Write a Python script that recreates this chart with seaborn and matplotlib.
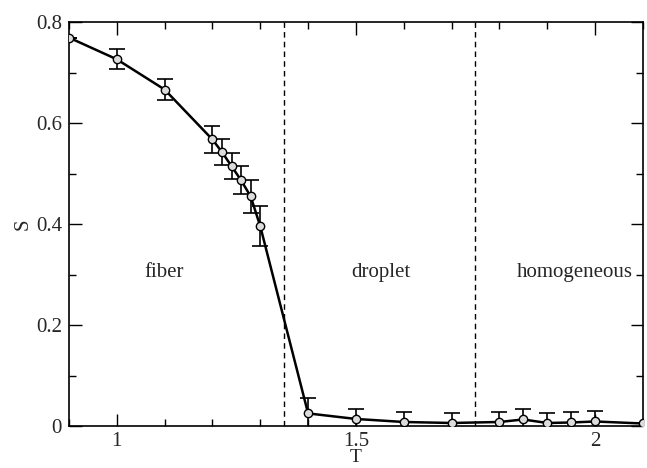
import matplotlib
matplotlib.use("Agg")
import matplotlib.pyplot as plt
import seaborn as sns
import pandas as pd
from matplotlib.ticker import MultipleLocator

T = [0.9, 1.0, 1.1, 1.2, 1.22, 1.24, 1.26, 1.28, 1.30, 1.4, 1.5, 1.6, 1.7, 1.8, 1.85, 1.9, 1.95, 2.0, 2.1]
S = [0.770, 0.727, 0.667, 0.568, 0.543, 0.515, 0.487, 0.455, 0.396, 0.025, 0.014, 0.008, 0.006, 0.008, 0.013, 0.006, 0.007, 0.009, 0.005]
S_err = [0.0, 0.02, 0.02, 0.026, 0.026, 0.026, 0.028, 0.032, 0.04, 0.03, 0.02, 0.02, 0.02, 0.02, 0.02, 0.02, 0.02, 0.02, 0.0]
boundaries = [1.35, 1.75]
phase_labels = ["fiber", "droplet", "homogeneous"]
phase_x = [1.1, 1.552, 1.958]
phase_y = [0.305, 0.305, 0.305]

df = pd.DataFrame({"T": T, "S": S, "err": S_err})

sns.set_theme(style="ticks")
plt.rcParams["font.family"] = ["Liberation Serif", "DejaVu Serif"]

fig = plt.figure(figsize=(6.47, 4.68), dpi=100)
ax = fig.add_axes([0.1066, 0.0897, 0.887, 0.8623])

ax.errorbar(df["T"], df["S"], yerr=df["err"], fmt="none", ecolor="black",
            elinewidth=1.2, capsize=6, capthick=1.2, zorder=2)
sns.lineplot(data=df, x="T", y="S", ax=ax, color="black", linewidth=1.8,
             marker="o", markersize=6, markerfacecolor="#dcdcdc",
             markeredgecolor="black", markeredgewidth=1.0, zorder=3)

for b in boundaries:
    ax.axvline(b, color="black", linestyle=(0, (4, 3)), linewidth=1.0, zorder=1)

for lab, x, y in zip(phase_labels, phase_x, phase_y):
    ax.text(x, y, lab, ha="center", va="center", fontsize=15)

ax.set_xlim(0.9, 2.1)
ax.set_ylim(0, 0.8)
ax.xaxis.set_minor_locator(MultipleLocator(0.1))
ax.yaxis.set_minor_locator(MultipleLocator(0.1))
ax.set_xticks([1, 1.5, 2])
ax.set_xticklabels(["1", "1.5", "2"])
ax.set_yticks([0, 0.2, 0.4, 0.6, 0.8])
ax.set_yticklabels(["0", "0.2", "0.4", "0.6", "0.8"])
ax.tick_params(which="both", direction="in", top=True, right=True, labelsize=15,
               color="black", width=1.0)
ax.tick_params(which="major", length=9, pad=4)
ax.tick_params(which="minor", length=5)
ax.tick_params(axis="y", which="major", pad=5)
for sp in ax.spines.values():
    sp.set_color("black")
    sp.set_linewidth(1.2)

ax.set_xlabel("T", fontsize=14, labelpad=-1)
ax.set_ylabel("S", fontsize=15, labelpad=2)

fig.savefig("out.png", dpi=100)
